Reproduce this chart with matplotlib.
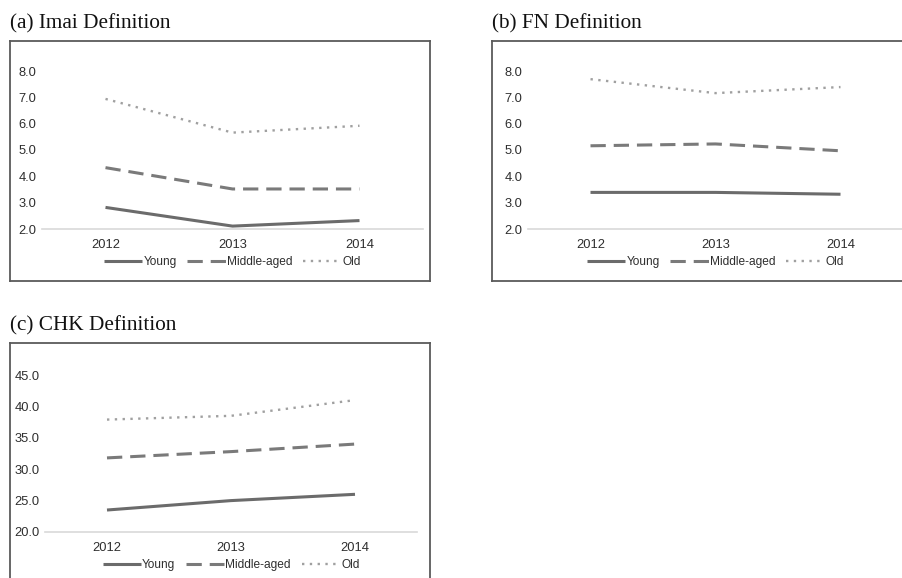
import numpy as np
import matplotlib
matplotlib.use("Agg")
import matplotlib.pyplot as plt

# -----------------------------
# Data
# -----------------------------
years = ["2012", "2013", "2014"]
groups = ["Young", "Middle-aged", "Old"]

imai_young = [2.82, 2.11, 2.32]
imai_middle = [4.33, 3.52, 3.52]
imai_old = [6.94, 5.66, 5.92]

fn_young = [3.39, 3.39, 3.32]
fn_middle = [5.16, 5.23, 4.97]
fn_old = [7.69, 7.16, 7.39]

chk_young = [23.5, 25.0, 26.0]
chk_middle = [31.8, 32.8, 34.0]
chk_old = [37.9, 38.5, 41.0]

imai_ticks = [2.0, 3.0, 4.0, 5.0, 6.0, 7.0, 8.0]
fn_ticks = [2.0, 3.0, 4.0, 5.0, 6.0, 7.0, 8.0]
chk_ticks = [20.0, 25.0, 30.0, 35.0, 40.0, 45.0]

# -----------------------------
# Layout helpers (pixel based)
# -----------------------------
W, H = 902, 578
fig = plt.figure(figsize=(W / 100, H / 100), dpi=100)
fig.patch.set_facecolor("white")


def px_axes(x0, y0, x1, y1):
    return fig.add_axes([x0 / W, 1 - y1 / H, (x1 - x0) / W, (y1 - y0) / H])


styles = [
    dict(color="#6b6b6b", lw=2.2, ls="-", solid_capstyle="butt"),
    dict(color="#7a7a7a", lw=2.2, ls=(0, (5.0, 2.6)), dash_capstyle="butt"),
    dict(color="#a0a0a0", lw=1.7, ls=(0, (1.0, 2.3)), dash_capstyle="butt"),
]


def panel(title, box, area, series, ticks):
    bx = px_axes(*box)
    bx.set_xticks([])
    bx.set_yticks([])
    for s in bx.spines.values():
        s.set_color("#5a5a5a")
        s.set_linewidth(1.3)
    fig.text(box[0] / W, 1 - (box[1] - 17) / H, title, family="Liberation Serif",
             fontsize=15.3, va="center", ha="left", color="#111111")

    ax = px_axes(*area)
    ax.patch.set_alpha(0)
    x = np.arange(len(years))
    for vals, name, st in zip(series, groups, styles):
        ax.plot(x, vals, label=name, **st)
    ax.set_xlim(-0.5, len(years) - 0.5)
    ax.set_ylim(ticks[0], ticks[-1])
    ax.set_yticks(ticks)
    ax.set_yticklabels([f"{t:.1f}" for t in ticks])
    ax.set_xticks(x)
    ax.set_xticklabels(years)
    ax.tick_params(length=0, labelsize=9.3, labelcolor="#2e2e2e")
    ax.tick_params(axis="y", pad=4)
    ax.tick_params(axis="x", pad=7)
    for k in ["top", "right", "left"]:
        ax.spines[k].set_visible(False)
    ax.spines["bottom"].set_color("#d9d9d9")
    ax.spines["bottom"].set_linewidth(1.2)
    for lab in ax.get_xticklabels() + ax.get_yticklabels():
        lab.set_family("Liberation Sans")
    h = area[3] - area[1]
    leg = ax.legend(loc="center", bbox_to_anchor=(0.5, -33 / h), ncol=3,
                    frameon=False, handlelength=3.2,
                    handletextpad=0.1, columnspacing=0.9,
                    prop={"family": "Liberation Sans", "size": 8.6})
    for t in leg.get_texts():
        t.set_color("#2e2e2e")


panel("(a) Imai Definition", (10, 41, 430, 281), (42, 71, 423, 229),
      [imai_young, imai_middle, imai_old], imai_ticks)
panel("(b) FN Definition", (492, 41, 908, 281), (528, 71, 903, 229),
      [fn_young, fn_middle, fn_old], fn_ticks)
panel("(c) CHK Definition", (10, 343, 430, 590), (45, 375, 417, 532),
      [chk_young, chk_middle, chk_old], chk_ticks)

fig.savefig("out.png", dpi=100, facecolor="white")
